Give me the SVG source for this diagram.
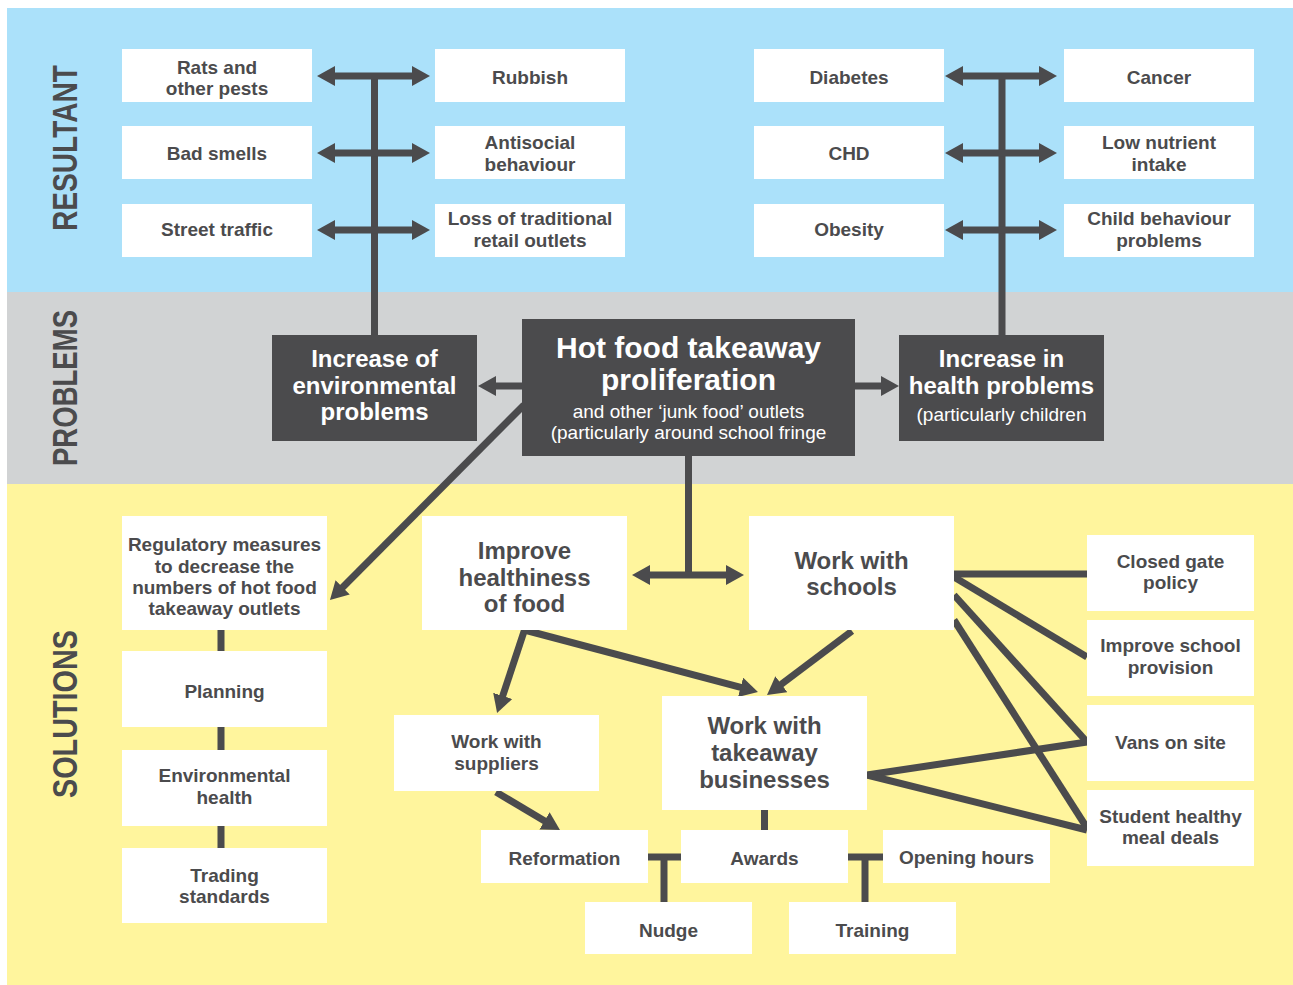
<svg xmlns="http://www.w3.org/2000/svg" width="1293" height="985" viewBox="0 0 1293 985">
<style>
.box{fill:#ffffff}
.dbox{fill:#4b4b4d}
.t{font-family:"Liberation Sans",Arial,sans-serif;font-weight:bold;font-size:19px;fill:#4b4b4d;text-anchor:middle}
.tl{font-family:"Liberation Sans",Arial,sans-serif;font-weight:bold;font-size:24px;fill:#4b4b4d;text-anchor:middle}
.w{font-family:"Liberation Sans",Arial,sans-serif;font-weight:bold;font-size:24px;fill:#ffffff;text-anchor:middle}
.wb{font-family:"Liberation Sans",Arial,sans-serif;font-weight:bold;font-size:30px;fill:#ffffff;text-anchor:middle}
.wr{font-family:"Liberation Sans",Arial,sans-serif;font-size:19px;fill:#ffffff;text-anchor:middle}
.side{font-family:"Liberation Sans",Arial,sans-serif;font-weight:bold;font-size:35px;fill:#4b4b4d;text-anchor:middle}
.c{stroke:#4b4b4d;stroke-width:7;fill:none}
.a{marker-end:url(#ah)}
.d{marker-start:url(#ah);marker-end:url(#ah)}
</style>
<defs>
<marker id="ah" markerUnits="userSpaceOnUse" markerWidth="20" markerHeight="22" refX="8" refY="10" orient="auto-start-reverse">
<path d="M0,0 L18,10 L0,20 z" fill="#4b4b4d"/>
</marker>
</defs>
<g id="bands">
<rect x="7" y="8" width="1286" height="284" fill="#abe1fa"/>
<rect x="7" y="292" width="1286" height="192" fill="#d1d3d4"/>
<rect x="7" y="484" width="1286" height="501" fill="#fff59d"/>
<text class="side" transform="translate(77,148) rotate(-90)" textLength="166" lengthAdjust="spacingAndGlyphs">RESULTANT</text>
<text class="side" transform="translate(77,388) rotate(-90)" textLength="156" lengthAdjust="spacingAndGlyphs">PROBLEMS</text>
<text class="side" transform="translate(77,714) rotate(-90)" textLength="168" lengthAdjust="spacingAndGlyphs">SOLUTIONS</text>
</g>
<g id="connectors">
<line class="c" x1="374.5" y1="76" x2="374.5" y2="335"/>
<line class="c d" x1="327" y1="76" x2="420" y2="76"/>
<line class="c d" x1="327" y1="153" x2="420" y2="153"/>
<line class="c d" x1="327" y1="230" x2="420" y2="230"/>
<line class="c" x1="1002" y1="76" x2="1002" y2="335"/>
<line class="c d" x1="955" y1="76" x2="1047" y2="76"/>
<line class="c d" x1="955" y1="153" x2="1047" y2="153"/>
<line class="c d" x1="955" y1="230" x2="1047" y2="230"/>
<line class="c a" x1="522" y1="386" x2="488" y2="386"/>
<line class="c a" x1="855" y1="386" x2="889" y2="386"/>
<line class="c a" x1="524" y1="405" x2="337" y2="593"/>
<line class="c" x1="688.5" y1="456" x2="688.5" y2="575"/>
<line class="c d" x1="642" y1="575" x2="734" y2="575"/>
<line class="c a" x1="524.5" y1="630" x2="500.2" y2="703.5"/>
<line class="c a" x1="524.5" y1="630" x2="748.3" y2="689.4"/>
<line class="c a" x1="852" y1="631" x2="775" y2="689"/>
<line class="c a" x1="496" y1="792" x2="551.4" y2="824.9"/>
<line class="c" x1="221" y1="630" x2="221" y2="848"/>
<line class="c" x1="764.5" y1="810" x2="764.5" y2="830"/>
<line class="c" x1="648" y1="857" x2="681" y2="857"/>
<line class="c" x1="664" y1="857" x2="664" y2="902"/>
<line class="c" x1="847" y1="857" x2="883" y2="857"/>
<line class="c" x1="865" y1="857" x2="865" y2="902"/>
<line class="c" x1="954" y1="574" x2="1087" y2="574"/>
<line class="c" x1="954" y1="577" x2="1087" y2="657"/>
<line class="c" x1="954" y1="595" x2="1087" y2="742"/>
<line class="c" x1="954" y1="620" x2="1087" y2="828"/>
<line class="c" x1="867" y1="775" x2="1087" y2="742"/>
<line class="c" x1="867" y1="775" x2="1087" y2="830"/>
</g>
<g id="rats"><rect class="box" x="122" y="49" width="190" height="53"/><text class="t" x="217" y="74">Rats and</text><text class="t" x="217" y="95">other pests</text></g>
<g id="badsmells"><rect class="box" x="122" y="126" width="190" height="53"/><text class="t" x="217" y="160">Bad smells</text></g>
<g id="streettraffic"><rect class="box" x="122" y="204" width="190" height="53"/><text class="t" x="217" y="236">Street traffic</text></g>
<g id="rubbish"><rect class="box" x="435" y="49" width="190" height="53"/><text class="t" x="530" y="84">Rubbish</text></g>
<g id="antisocial"><rect class="box" x="435" y="126" width="190" height="53"/><text class="t" x="530" y="149">Antisocial</text><text class="t" x="530" y="171">behaviour</text></g>
<g id="lossretail"><rect class="box" x="435" y="204" width="190" height="53"/><text class="t" x="530" y="225">Loss of traditional</text><text class="t" x="530" y="247">retail outlets</text></g>
<g id="diabetes"><rect class="box" x="754" y="49" width="190" height="53"/><text class="t" x="849" y="84">Diabetes</text></g>
<g id="chd"><rect class="box" x="754" y="126" width="190" height="53"/><text class="t" x="849" y="160">CHD</text></g>
<g id="obesity"><rect class="box" x="754" y="204" width="190" height="53"/><text class="t" x="849" y="236">Obesity</text></g>
<g id="cancer"><rect class="box" x="1064" y="49" width="190" height="53"/><text class="t" x="1159" y="84">Cancer</text></g>
<g id="lownutrient"><rect class="box" x="1064" y="126" width="190" height="53"/><text class="t" x="1159" y="149">Low nutrient</text><text class="t" x="1159" y="171">intake</text></g>
<g id="childbehaviour"><rect class="box" x="1064" y="204" width="190" height="53"/><text class="t" x="1159" y="225">Child behaviour</text><text class="t" x="1159" y="247">problems</text></g>
<g id="envproblems"><rect class="dbox" x="272" y="335" width="205" height="106"/><text class="w" x="374.5" y="366.5">Increase of</text><text class="w" x="374.5" y="393.5">environmental</text><text class="w" x="374.5" y="419.5">problems</text></g>
<g id="hotfood"><rect class="dbox" x="522" y="319" width="333" height="137"/><text class="wb" x="688.5" y="358">Hot food takeaway</text><text class="wb" x="688.5" y="390">proliferation</text><text class="wr" x="688.5" y="418">and other ‘junk food’ outlets</text><text class="wr" x="688.5" y="439">(particularly around school fringe</text></g>
<g id="healthproblems"><rect class="dbox" x="899" y="335" width="205" height="106"/><text class="w" x="1001.5" y="367">Increase in</text><text class="w" x="1001.5" y="393.5">health problems</text><text class="wr" x="1001.5" y="421">(particularly children</text></g>
<g id="regulatory"><rect class="box" x="122" y="516" width="205" height="114"/><text class="t" x="224.5" y="551">Regulatory measures</text><text class="t" x="224.5" y="573">to decrease the</text><text class="t" x="224.5" y="594">numbers of hot food</text><text class="t" x="224.5" y="615">takeaway outlets</text></g>
<g id="planning"><rect class="box" x="122" y="651" width="205" height="76"/><text class="t" x="224.5" y="698">Planning</text></g>
<g id="envhealth"><rect class="box" x="122" y="750" width="205" height="76"/><text class="t" x="224.5" y="782">Environmental</text><text class="t" x="224.5" y="804">health</text></g>
<g id="trading"><rect class="box" x="122" y="848" width="205" height="75"/><text class="t" x="224.5" y="882">Trading</text><text class="t" x="224.5" y="903">standards</text></g>
<g id="improvehealthiness"><rect class="box" x="422" y="516" width="205" height="114"/><text class="tl" x="524.5" y="558.5">Improve</text><text class="tl" x="524.5" y="585.5">healthiness</text><text class="tl" x="524.5" y="611.5">of food</text></g>
<g id="schools"><rect class="box" x="749" y="516" width="205" height="114"/><text class="tl" x="851.5" y="568.5">Work with</text><text class="tl" x="851.5" y="594.5">schools</text></g>
<g id="suppliers"><rect class="box" x="394" y="715" width="205" height="76"/><text class="t" x="496.5" y="748">Work with</text><text class="t" x="496.5" y="770">suppliers</text></g>
<g id="takeaway"><rect class="box" x="662" y="696" width="205" height="114"/><text class="tl" x="764.5" y="733.5">Work with</text><text class="tl" x="764.5" y="760.5">takeaway</text><text class="tl" x="764.5" y="787.5">businesses</text></g>
<g id="reformation"><rect class="box" x="481" y="830" width="167" height="53"/><text class="t" x="564.5" y="865">Reformation</text></g>
<g id="awards"><rect class="box" x="681" y="830" width="167" height="53"/><text class="t" x="764.5" y="865">Awards</text></g>
<g id="openinghours"><rect class="box" x="883" y="830" width="167" height="53"/><text class="t" x="966.5" y="864">Opening hours</text></g>
<g id="nudge"><rect class="box" x="585" y="902" width="167" height="52"/><text class="t" x="668.5" y="937">Nudge</text></g>
<g id="training"><rect class="box" x="789" y="902" width="167" height="52"/><text class="t" x="872.5" y="937">Training</text></g>
<g id="closedgate"><rect class="box" x="1087" y="535" width="167" height="76"/><text class="t" x="1170.5" y="568">Closed gate</text><text class="t" x="1170.5" y="589">policy</text></g>
<g id="schoolprovision"><rect class="box" x="1087" y="620" width="167" height="76"/><text class="t" x="1170.5" y="652">Improve school</text><text class="t" x="1170.5" y="674">provision</text></g>
<g id="vans"><rect class="box" x="1087" y="705" width="167" height="76"/><text class="t" x="1170.5" y="749">Vans on site</text></g>
<g id="mealdeals"><rect class="box" x="1087" y="790" width="167" height="76"/><text class="t" x="1170.5" y="823">Student healthy</text><text class="t" x="1170.5" y="844">meal deals</text></g>
</svg>
